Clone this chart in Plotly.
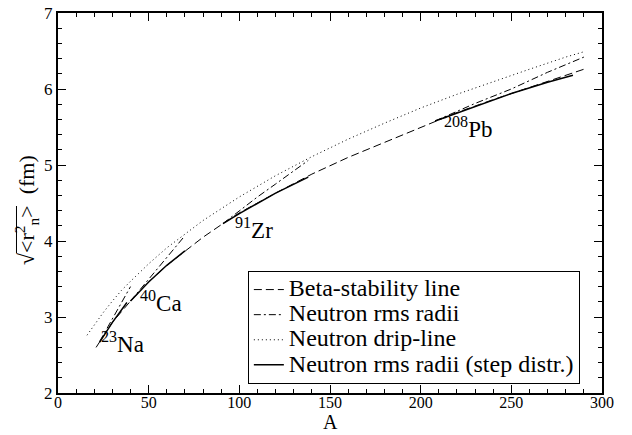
import plotly.graph_objects as go

# Beta-stability line
A_beta = [21, 25, 30, 40, 50, 60, 70, 80, 91, 100, 120, 140, 160, 180, 200, 208, 220, 240, 260, 280, 290]
R_beta = [2.60, 2.75, 2.93, 3.21, 3.46, 3.68, 3.87, 4.05, 4.23, 4.37, 4.63, 4.88, 5.10, 5.30, 5.50, 5.58, 5.69, 5.86, 6.02, 6.18, 6.26]

# Neutron drip-line
A_drip = [16, 20, 25, 30, 35, 40, 50, 60, 70, 80, 100, 120, 140, 160, 180, 200, 220, 240, 260, 280, 290]
R_drip = [2.76, 2.90, 3.06, 3.21, 3.35, 3.47, 3.70, 3.91, 4.09, 4.27, 4.58, 4.86, 5.11, 5.34, 5.55, 5.75, 5.93, 6.10, 6.26, 6.42, 6.49]

# Neutron rms radii (isotopic chains Na, Ca, Zr, Pb)
A_rms = [23, 30, 36, 40, None, 40, 50, 60, 70, None, 91, 100, 110, 120, 130, 138, None, 208, 230, 250, 270, 290]
R_rms = [2.68, 2.98, 3.24, 3.40, None, 3.21, 3.50, 3.79, 4.07, None, 4.23, 4.40, 4.58, 4.75, 4.92, 5.06, None, 5.58, 5.81, 6.00, 6.22, 6.42]

# Neutron rms radii (step distribution)
A_step = [23, 30, 38, None, 40, 50, 60, 70, None, 91, 100, 120, 138, None, 208, 230, 250, 270, 284]
R_step = [2.67, 2.93, 3.19, None, 3.21, 3.46, 3.68, 3.87, None, 4.23, 4.36, 4.63, 4.84, None, 5.58, 5.77, 5.94, 6.09, 6.18]

series_names = ["Beta-stability line", "Neutron rms radii", "Neutron drip-line",
                "Neutron rms radii (step distr.)"]

# Nucleus labels
lab_text = ["<sup>23</sup>Na", "<sup>40</sup>Ca", "<sup>91</sup>Zr", "<sup>208</sup>Pb"]
lab_x = [22.5, 44, 96.5, 212]
lab_y = [2.66, 3.20, 4.16, 5.49]

FONT = "Liberation Serif, Times New Roman, serif"


def legend_name(s):
    return "<span style='font-size:24px'>" + s + "</span>"


fig = go.Figure()
fig.add_trace(go.Scatter(x=A_beta, y=R_beta, mode="lines", name=legend_name(series_names[0]),
                         line=dict(color="black", width=1, dash="8px,4px")))
fig.add_trace(go.Scatter(x=A_rms, y=R_rms, mode="lines", name=legend_name(series_names[1]),
                         line=dict(color="black", width=1, dash="7px,3px,2px,3px"), connectgaps=False))
fig.add_trace(go.Scatter(x=A_drip, y=R_drip, mode="lines", name=legend_name(series_names[2]),
                         line=dict(color="black", width=1, dash="1px,3px")))
fig.add_trace(go.Scatter(x=A_step, y=R_step, mode="lines", name=legend_name(series_names[3]),
                         line=dict(color="black", width=1.5), connectgaps=False))

for t, x, y in zip(lab_text, lab_x, lab_y):
    fig.add_annotation(x=x, y=y, text=t, showarrow=False, xanchor="left", yanchor="middle",
                       font=dict(family=FONT, size=23, color="black"))

# y-axis title (rotated) with radical
fig.add_annotation(xref="paper", yref="paper", x=-0.057, y=0.4816, textangle=-90,
                   text="√&lt;r<sup>2</sup><sub>n</sub>&gt;&nbsp;&nbsp;(fm)", showarrow=False,
                   xanchor="center", yanchor="middle",
                   font=dict(family=FONT, size=22, color="black"))
fig.add_shape(type="line", xref="paper", yref="paper", x0=-0.0763, x1=-0.0763,
              y0=0.3684, y1=0.4921, line=dict(color="black", width=1))

# x-axis title
fig.add_annotation(xref="paper", yref="paper", x=0.5, y=-0.0776, text="A", showarrow=False,
                   xanchor="center", yanchor="middle", borderpad=0,
                   font=dict(family=FONT, size=20, color="black"))

axis_common = dict(showline=True, linecolor="black", linewidth=2, mirror="allticks",
                   ticks="inside", ticklen=8, tickwidth=1, tickcolor="black",
                   showgrid=False, zeroline=False, automargin=False)

fig.update_xaxes(range=[0, 300], dtick=50, tick0=0, ticklabelstandoff=-6,
                 tickfont=dict(family=FONT, size=16, color="black"),
                 minor=dict(ticks="inside", ticklen=4, dtick=10, tickcolor="black"),
                 **axis_common)
fig.update_yaxes(range=[2, 7], dtick=1, tick0=2,
                 tickfont=dict(family=FONT, size=17, color="black"),
                 minor=dict(ticks="inside", ticklen=4, dtick=0.2, tickcolor="black"),
                 **axis_common)

fig.update_layout(
    template="none",
    width=632, height=435,
    margin=dict(l=58, r=30, t=13, b=42),
    paper_bgcolor="white", plot_bgcolor="white",
    showlegend=True,
    legend=dict(x=0.349, y=0.321, xanchor="left", yanchor="top",
                bgcolor="white", bordercolor="black", borderwidth=1,
                font=dict(family=FONT, size=17, color="black"),
                tracegroupgap=0, itemwidth=30),
)

fig.write_html("out.html", config={"displayModeBar": False},
               post_script="document.body.style.margin='0px';document.body.style.overflow='hidden';")
